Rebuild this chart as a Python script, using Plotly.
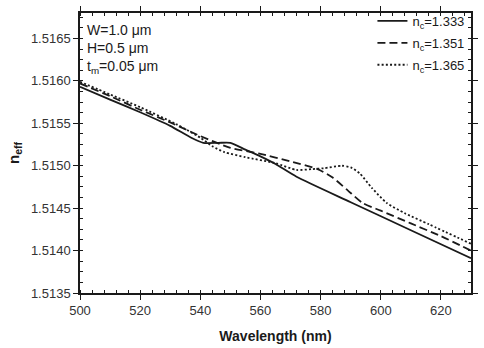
import plotly.graph_objects as go

# Data
wl_1333 = [500, 510, 520, 530, 537, 541, 546, 550, 555, 560, 565, 572, 590, 610, 630]
neff_1333 = [1.51593, 1.51578, 1.51563, 1.51547, 1.51533, 1.51527, 1.51527, 1.51527,
             1.51519, 1.51511, 1.51502, 1.51487, 1.51457, 1.51424, 1.51391]

wl_1351 = [500, 510, 520, 530, 540, 550, 560, 570, 579, 584, 589, 594, 600, 610, 620, 630]
neff_1351 = [1.51597, 1.51582, 1.51566, 1.51551, 1.51535, 1.51521, 1.51514, 1.51505,
             1.51496, 1.51486, 1.51471, 1.51456, 1.51447, 1.51432, 1.51417, 1.51400]

wl_1365 = [500, 510, 520, 532, 540, 544, 548, 555, 565, 572, 577, 581, 587, 590, 593,
           597, 602, 608, 616, 630]
neff_1365 = [1.51599, 1.51584, 1.51569, 1.51549, 1.51533, 1.51523, 1.51516, 1.51510,
             1.51503, 1.51495, 1.51496, 1.51497, 1.51500, 1.51498, 1.51491, 1.51474,
             1.51456, 1.51444, 1.51431, 1.51408]

series = [
    ("n<sub>c</sub>=1.333", wl_1333, neff_1333, "solid"),
    ("n<sub>c</sub>=1.351", wl_1351, neff_1351, "8px,4px"),
    ("n<sub>c</sub>=1.365", wl_1365, neff_1365, "2px,2.2px"),
]

x_ticks = [500, 520, 540, 560, 580, 600, 620]
y_ticks = [1.5135, 1.5140, 1.5145, 1.5150, 1.5155, 1.5160, 1.5165]
y_ticklabels = ["1.5135", "1.5140", "1.5145", "1.5150", "1.5155", "1.5160", "1.5165"]

FONT = "Liberation Sans, Arial, sans-serif"
INK = "#1a1a1a"

fig = go.Figure()
for i, (name, x, y, dash) in enumerate(series):
    fig.add_trace(go.Scatter(
        x=x, y=y, name=name, mode="lines", legendgroup=f"g{i}",
        line=dict(color=INK, width=1.8, dash=dash, shape="spline", smoothing=0.6),
    ))

axis_common = dict(
    showgrid=False, zeroline=False, showline=True, linecolor=INK, linewidth=1.5,
    mirror="allticks", ticks="outside", ticklen=5, tickwidth=1.3, tickcolor=INK,
    tickfont=dict(family=FONT, size=13, color="#333"),
)

fig.update_xaxes(
    range=[500, 630], tickvals=x_ticks,
    minor=dict(dtick=4, ticks="inside", ticklen=3, tickwidth=1, tickcolor=INK),
    title=dict(text="<b>Wavelength (nm)</b>", font=dict(family=FONT, size=14, color=INK),
               standoff=14),
    **axis_common,
)
fig.update_yaxes(
    range=[1.5135, 1.5168], tickvals=y_ticks, ticktext=y_ticklabels,
    minor=dict(dtick=0.000125, tick0=1.5135, ticks="inside", ticklen=3, tickwidth=1, tickcolor=INK),
    title=dict(text="<b>n<sub>eff</sub></b>", font=dict(family=FONT, size=15, color=INK),
               standoff=8),
    **axis_common,
)

for txt, yp in [("W=1.0 \u03bcm", 0.941), ("H=0.5 \u03bcm", 0.874), ("t<sub>m</sub>=0.05 \u03bcm", 0.806)]:
    fig.add_annotation(
        x=0.012, y=yp, xref="paper", yref="paper", text=txt, showarrow=False,
        xanchor="left", yanchor="middle", font=dict(family=FONT, size=14, color=INK),
    )

fig.update_layout(
    width=484, height=348,
    margin=dict(l=80, r=6, t=8, b=54),
    paper_bgcolor="white", plot_bgcolor="white",
    showlegend=True,
    legend=dict(x=0.996, y=1.025, xanchor="right", yanchor="top",
                bgcolor="rgba(0,0,0,0)", font=dict(family=FONT, size=13, color=INK),
                tracegroupgap=2, itemwidth=30),
)

fig.write_html("out.html")
